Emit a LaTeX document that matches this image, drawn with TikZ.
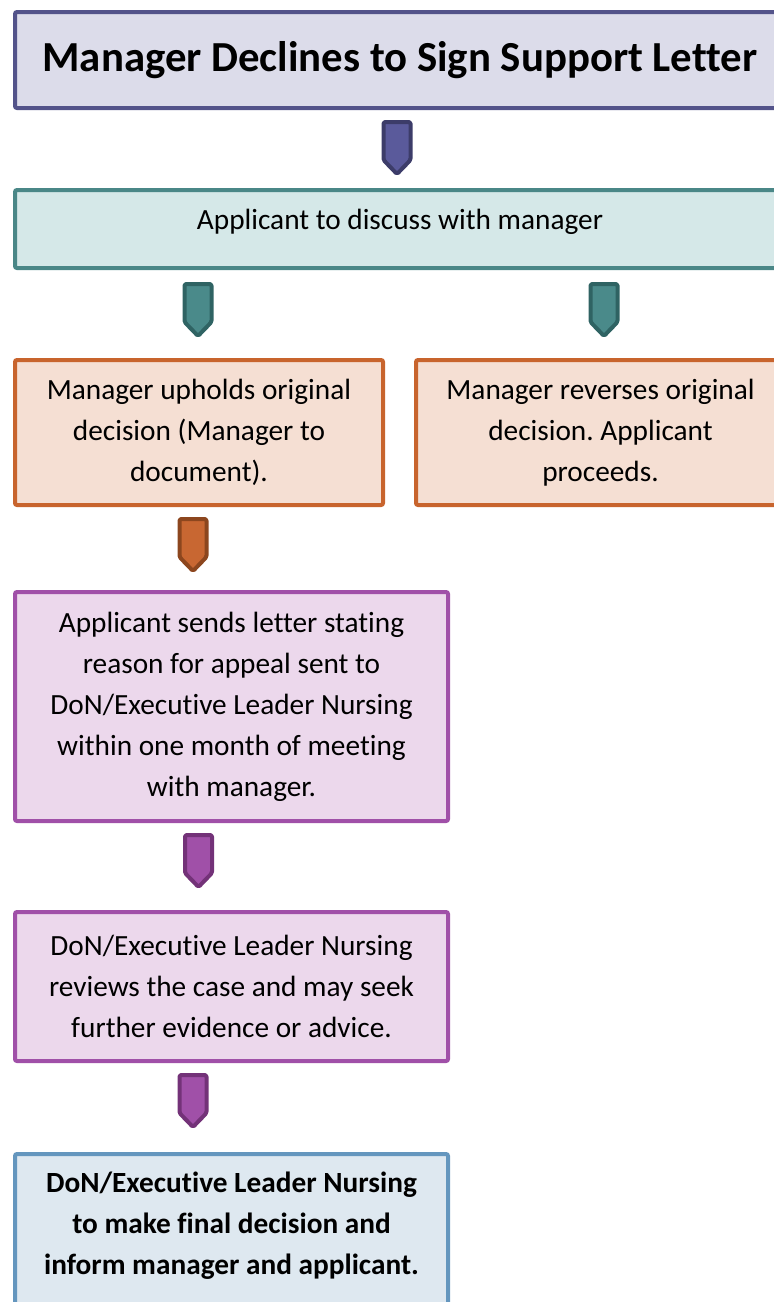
\documentclass[tikz,border=0pt]{standalone}
\usepackage{fontspec}
\setmainfont{Carlito}[RawFeature={-liga;-clig;-calt;-dlig}]
\frenchspacing
\definecolor{tbord}{RGB}{83,83,138}
\definecolor{tfill}{RGB}{220,220,234}
\definecolor{tarf}{RGB}{90,90,155}
\definecolor{tarb}{RGB}{60,60,105}
\definecolor{gbord}{RGB}{74,135,135}
\definecolor{gfill}{RGB}{213,232,232}
\definecolor{garf}{RGB}{74,138,138}
\definecolor{garb}{RGB}{47,99,99}
\definecolor{obord}{RGB}{200,100,45}
\definecolor{ofill}{RGB}{245,223,211}
\definecolor{oarf}{RGB}{200,103,50}
\definecolor{oarb}{RGB}{140,70,30}
\definecolor{pbord}{RGB}{160,80,168}
\definecolor{pfill}{RGB}{236,216,236}
\definecolor{parf}{RGB}{160,80,168}
\definecolor{parb}{RGB}{115,50,120}
\definecolor{bbord}{RGB}{100,150,190}
\definecolor{bfill}{RGB}{222,232,240}
\tikzset{
  box/.style={draw, line width=4pt, rounded corners=2pt, rectangle, inner sep=0pt, align=center,
    font=\fontsize{29.3}{41}\selectfont\frenchspacing},
  txt/.style={inner sep=0pt, align=center, font=\fontsize{29.3}{41}\selectfont\frenchspacing},
  blockarrow/.pic={
    \draw[line width=4pt, rounded corners=1.5pt, line join=round, pic actions]
      (-13.5,2) -- (13.5,2) -- (13.5,40) -- (0,54) -- (-13.5,40) -- cycle;
  }
}
\begin{document}
\begin{tikzpicture}[x=1pt,y=-1pt]
\useasboundingbox (0,0) rectangle (774,1302);
\clip (0,0) rectangle (774,1302);
\node[box, draw=tbord, fill=tfill, minimum width=770pt, minimum height=96pt,
  font=\fontsize{42.8}{50}\selectfont\bfseries] (title) at (400,60) {Manager Declines to Sign Support Letter};
\node[box, draw=gbord, fill=gfill, minimum width=770pt, minimum height=78pt] (discuss) at (400,229) {};
\node[txt] (discusstext) at (400,222) {Applicant to discuss with manager};
\node[box, draw=obord, fill=ofill, minimum width=368pt, minimum height=145pt] (uphold) at (199,432.5)
  {Manager upholds original\\decision (Manager to\\document).};
\node[box, draw=obord, fill=ofill, minimum width=369pt, minimum height=145pt] (reverse) at (600.5,432.5)
  {Manager reverses original\\decision. Applicant\\proceeds.};
\node[box, draw=pbord, fill=pfill, minimum width=433pt, minimum height=229pt] (letter) at (231.5,706.5)
  {Applicant sends letter stating\\reason for appeal sent to\\DoN/Executive Leader Nursing\\within one month of meeting\\with manager.};
\node[box, draw=pbord, fill=pfill, minimum width=433pt, minimum height=149pt] (review) at (231.5,986.5)
  {DoN/Executive Leader Nursing\\reviews the case and may seek\\further evidence or advice.};
\node[box, draw=bbord, fill=bfill, minimum width=433pt, minimum height=156pt] (final) at (231.5,1232) {};
\node[txt, font=\fontsize{29.3}{41}\selectfont\bfseries] (finaltext) at (231.5,1226)
  {DoN/Executive Leader Nursing\\to make final decision and\\inform manager and applicant.};
\coordinate (a1) at (397,120);
\coordinate (a2) at (198,282);
\coordinate (a3) at (604,282);
\coordinate (a4) at (193,517);
\coordinate (a5) at (198.5,833);
\coordinate (a6) at (193,1073);
\pic[draw=tarb, fill=tarf] at (a1) {blockarrow};
\pic[draw=garb, fill=garf] at (a2) {blockarrow};
\pic[draw=garb, fill=garf] at (a3) {blockarrow};
\pic[draw=oarb, fill=oarf] at (a4) {blockarrow};
\pic[draw=parb, fill=parf] at (a5) {blockarrow};
\pic[draw=parb, fill=parf] at (a6) {blockarrow};
\end{tikzpicture}
\end{document}
